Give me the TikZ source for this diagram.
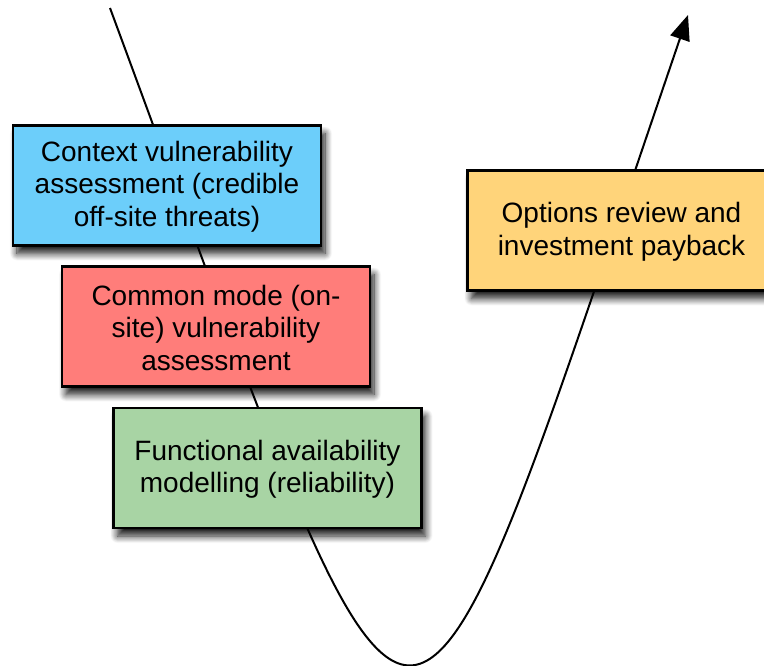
\documentclass[tikz,border=0pt]{standalone}
\usepackage{fontspec}
\setmainfont{Liberation Sans}
\usetikzlibrary{arrows.meta,shadows.blur}
\definecolor{boxblue}{RGB}{108,206,250}
\definecolor{boxred}{RGB}{255,125,122}
\definecolor{boxgreen}{RGB}{168,212,164}
\definecolor{boxyellow}{RGB}{255,212,122}
\tikzset{
  stagebox/.style={draw=black, line width=2.6pt, minimum width=308pt, minimum height=120pt,
    inner sep=0pt, align=center, font=\fontsize{28}{32.5}\selectfont,
    blur shadow={shadow xshift=4pt, shadow yshift=-8pt, shadow blur radius=7pt, shadow blur steps=10, shadow opacity=90}},
  vcurve/.style={line width=2pt, -{Triangle[length=25pt, width=20pt]}}
}
\begin{document}
\begin{tikzpicture}[x=1pt, y=-1pt]
\useasboundingbox (0,0) rectangle (764,665);
\clip (0,0) rectangle (764,665);
\coordinate (start) at (110,8);
\coordinate (tip) at (688,15);
\draw[vcurve] (start) .. controls (432,878) and (392,881) .. (tip);
\node[stagebox, fill=boxblue] (ctx) at (167,185.5) {\strut Context vulnerability\\assessment (credible\\off-site threats)};
\node[stagebox, fill=boxred] (cm) at (216,326.5) {\strut Common mode (on-\\site) vulnerability\\assessment};
\node[stagebox, fill=boxgreen] (fa) at (267.5,468) {\strut Functional availability\\modelling (reliability)};
\node[stagebox, fill=boxyellow] (opt) at (621.5,230.5) {\strut Options review and\\investment payback};
\end{tikzpicture}
\end{document}
